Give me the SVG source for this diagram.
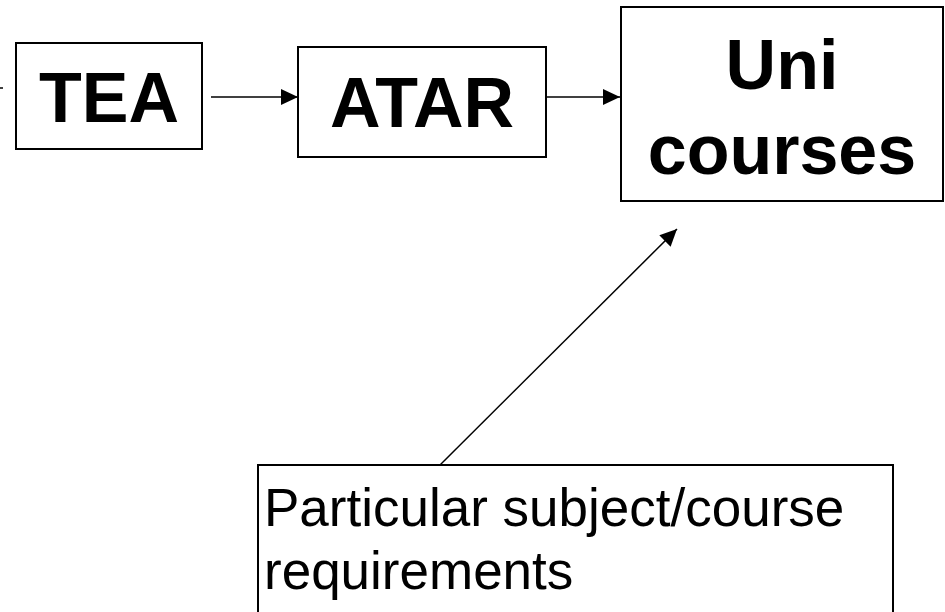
<svg xmlns="http://www.w3.org/2000/svg" width="945" height="612" viewBox="0 0 945 612">
<style>
.box{fill:#fff;stroke:#000;stroke-width:2}
.big{font-family:"Liberation Sans",Arial,sans-serif;font-weight:bold;font-size:70px;fill:#000;text-anchor:middle}
.norm{font-family:"Liberation Sans",Arial,sans-serif;font-size:53px;fill:#000}
.conn{stroke:#000;stroke-width:1.5;fill:none}
</style>
<defs>
<marker id="arr" markerUnits="userSpaceOnUse" markerWidth="18" markerHeight="16" refX="17" refY="8" orient="auto">
<path d="M0,0 L17,8 L0,16 Z" fill="#000"/>
</marker>
</defs>
<rect width="945" height="612" fill="#fff"/>
<g id="connectors">
<line class="conn" x1="0" y1="88" x2="3" y2="88"/>
<line class="conn" x1="211" y1="97" x2="298" y2="97" marker-end="url(#arr)"/>
<line class="conn" x1="546" y1="97" x2="620" y2="97" marker-end="url(#arr)"/>
<line class="conn" x1="440" y1="465" x2="677" y2="229" marker-end="url(#arr)"/>
</g>
<g id="tea">
<rect class="box" x="16" y="43" width="186" height="106"/>
<text class="big" x="109" y="122">TEA</text>
</g>
<g id="atar">
<rect class="box" x="298" y="47" width="248" height="110"/>
<text class="big" x="422" y="127">ATAR</text>
</g>
<g id="uni">
<rect class="box" x="621" y="7" width="322" height="194"/>
<text class="big" x="782" y="89">Uni</text>
<text class="big" x="782" y="174">courses</text>
</g>
<g id="req">
<rect class="box" x="258" y="465" width="635" height="160"/>
<text class="norm" x="264" y="526">Particular subject/course</text>
<text class="norm" x="264" y="589">requirements</text>
</g>
</svg>
